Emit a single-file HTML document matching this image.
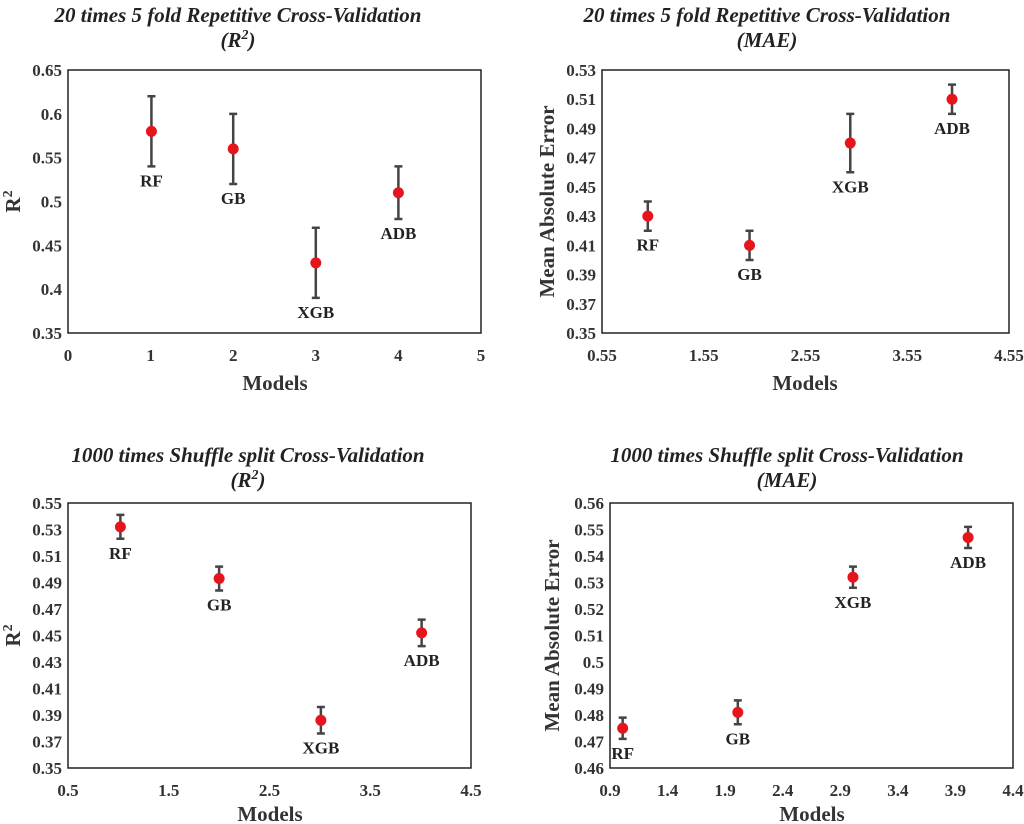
<!DOCTYPE html>
<html><head><meta charset="utf-8"><style>
body{margin:0;background:#fff;}
svg{display:block;font-family:"Liberation Serif",serif;}
.tick{font-size:17px;font-weight:bold;fill:#333;}
.ttl{font-size:21px;font-weight:bold;font-style:italic;fill:#222;}
.ax{font-size:21px;font-weight:bold;fill:#333;}
.lbl{font-size:17px;font-weight:bold;fill:#222;}
</style></head><body>
<svg id="c" width="1024" height="824" viewBox="0 0 1024 824"></svg>
<script>
const models = ["RF","GB","XGB","ADB"];
const p1X = [1.01, 2.0, 3.0, 4.0];
const p1Y = [0.58, 0.56, 0.43, 0.51];
const p1E = [0.04, 0.04, 0.04, 0.03];
const p1XTicks = ["0","1","2","3","4","5"];
const p1YTicks = ["0.35","0.4","0.45","0.5","0.55","0.6","0.65"];
const p2X = [1.0, 2.0, 2.99, 3.99];
const p2Y = [0.43, 0.41, 0.48, 0.51];
const p2E = [0.01, 0.01, 0.02, 0.01];
const p2XTicks = ["0.55","1.55","2.55","3.55","4.55"];
const p2YTicks = ["0.35","0.37","0.39","0.41","0.43","0.45","0.47","0.49","0.51","0.53"];
const p3X = [1.02, 2.0, 3.01, 4.01];
const p3Y = [0.532, 0.493, 0.386, 0.452];
const p3E = [0.009, 0.009, 0.01, 0.01];
const p3XTicks = ["0.5","1.5","2.5","3.5","4.5"];
const p3YTicks = ["0.35","0.37","0.39","0.41","0.43","0.45","0.47","0.49","0.51","0.53","0.55"];
const p4X = [1.01, 2.01, 3.01, 4.01];
const p4Y = [0.475, 0.481, 0.532, 0.547];
const p4E = [0.004, 0.0045, 0.004, 0.004];
const p4XTicks = ["0.9","1.4","1.9","2.4","2.9","3.4","3.9","4.4"];
const p4YTicks = ["0.46","0.47","0.48","0.49","0.5","0.51","0.52","0.53","0.54","0.55","0.56"];

const svg = document.getElementById('c');
const NS = "http://www.w3.org/2000/svg";
function mk(tag, attrs, parent){const e=document.createElementNS(NS,tag);for(const k in attrs)e.setAttribute(k,attrs[k]);(parent||svg).appendChild(e);return e;}

const panels = [
 {id:"r2-repcv", box:[68,70,481,333], xT:p1XTicks, yT:p1YTicks, X:p1X, Y:p1Y, E:p1E,
  t1:"20 times 5 fold Repetitive Cross-Validation", t2:"(R", t2sup:"2", t2end:")", tx:238, ty:22,
  yt:"R", ytsup:"2", ytx:20, xtx:275, xty:390},
 {id:"mae-repcv", box:[602,70,1009,333], xT:p2XTicks, yT:p2YTicks, X:p2X, Y:p2Y, E:p2E,
  t1:"20 times 5 fold Repetitive Cross-Validation", t2:"(MAE)", tx:767, ty:22,
  yt:"Mean Absolute Error", ytx:554, xtx:805, xty:390},
 {id:"r2-shuffle", box:[68,503,471,768], xT:p3XTicks, yT:p3YTicks, X:p3X, Y:p3Y, E:p3E,
  t1:"1000 times Shuffle split Cross-Validation", t2:"(R", t2sup:"2", t2end:")", tx:248, ty:462,
  yt:"R", ytsup:"2", ytx:20, xtx:270, xty:821},
 {id:"mae-shuffle", box:[610,503,1013,768], xT:p4XTicks, yT:p4YTicks, X:p4X, Y:p4Y, E:p4E,
  t1:"1000 times Shuffle split Cross-Validation", t2:"(MAE)", tx:787, ty:462,
  yt:"Mean Absolute Error", ytx:559, xtx:812, xty:821}
];

panels.forEach(p=>{
  const [x0,y0,x1,y1]=p.box;
  const xmin=+p.xT[0], xmax=+p.xT[p.xT.length-1];
  const ymin=+p.yT[0], ymax=+p.yT[p.yT.length-1];
  const xs=v=>x0+(v-xmin)/(xmax-xmin)*(x1-x0);
  const ys=v=>y1-(v-ymin)/(ymax-ymin)*(y1-y0);
  const g=mk('g',{});
  
  
  const box=mk('rect',{x:x0,y:y0,width:x1-x0,height:y1-y0,fill:'none',stroke:'#222','stroke-width':1.5},g);
  
  
  const t=mk('text',{x:p.tx,y:p.ty,'text-anchor':'middle',class:'ttl'},g);
  t.textContent=p.t1;
  
  
  const t2=mk('text',{x:p.tx,y:p.ty+25,'text-anchor':'middle',class:'ttl'},g);
  
  
  if(p.t2sup){
    const a=mk('tspan',{},t2);a.textContent=p.t2;
    const b=mk('tspan',{dy:-8,'font-size':14},t2);b.textContent=p.t2sup;
    const c=mk('tspan',{dy:8},t2);c.textContent=p.t2end;
  } else t2.textContent=p.t2;
  p.xT.forEach(s=>{
    const tt=mk('text',{x:xs(+s),y:y1+28,'text-anchor':'middle',class:'tick'},g);
    tt.textContent=s;
    
    
  });
  p.yT.forEach(s=>{
    const tt=mk('text',{x:x0-6,y:ys(+s)+6,'text-anchor':'end',class:'tick'},g);
    tt.textContent=s;
    
    
  });
  const xt=mk('text',{x:p.xtx,y:p.xty,'text-anchor':'middle',class:'ax'},g);
  xt.textContent="Models";
  
  
  const cy=(y0+y1)/2;
  const yt=mk('text',{x:p.ytx,y:cy,'text-anchor':'middle',class:'ax',transform:`rotate(-90 ${p.ytx} ${cy})`},g);
  
  
  if(p.ytsup){const a=mk('tspan',{},yt);a.textContent=p.yt;const b=mk('tspan',{dy:-8,'font-size':14},yt);b.textContent=p.ytsup;}
  else yt.textContent=p.yt;
  models.forEach((m,i)=>{
    const cx=xs(p.X[i]), yv=ys(p.Y[i]), yh=ys(p.Y[i]+p.E[i]), yl=ys(p.Y[i]-p.E[i]);
    const eb=mk('path',{d:`M${cx},${yh}V${yl}M${cx-4},${yh}H${cx+4}M${cx-4},${yl}H${cx+4}`,stroke:'#444','stroke-width':2.5,fill:'none'},g);
    
    
    const c=mk('circle',{cx:cx,cy:yv,r:5.5,fill:'#e8141c'},g);
    
    
    const l=mk('text',{x:cx,y:yl+20,'text-anchor':'middle',class:'lbl'},g);
    l.textContent=m;
    
    
  });
});
</script>
</body></html>
